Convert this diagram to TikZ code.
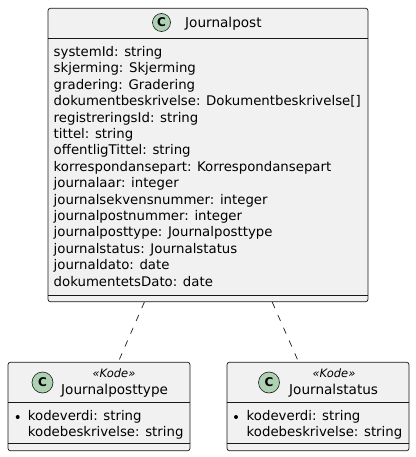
\documentclass[tikz,border=0pt]{standalone}
\usepackage{fontspec}
\setmainfont{DejaVu Sans}
\usetikzlibrary{calc}
\definecolor{boxfill}{HTML}{F1F1F1}
\definecolor{boxline}{HTML}{181818}
\definecolor{circfill}{HTML}{ADD1B2}
\tikzset{
  umlbox/.style={draw=boxline, fill=boxfill, line width=0.7pt, rounded corners=2.5pt, inner sep=0pt},
  divider/.style={draw=boxline, line width=0.7pt},
  conn/.style={draw=boxline, line width=0.7pt, dash pattern=on 6.5pt off 7.5pt},
  circ/.style={circle, draw=boxline, fill=circfill, line width=0.6pt, inner sep=0pt, font=\fontsize{12}{12}\selectfont\bfseries},
  title/.style={anchor=base west, inner sep=0pt, font=\fontsize{13.6}{15}\selectfont},
  stereo/.style={anchor=base, inner sep=0pt, font=\fontsize{11.5}{12}\selectfont\itshape},
  attr/.style={anchor=base west, inner sep=0pt, font=\fontsize{13.3}{15}\selectfont},
  dot/.style={circle, fill=black, inner sep=0pt, minimum size=4pt}
}
\begin{document}
\begin{tikzpicture}[x=1pt,y=-1pt]
\useasboundingbox (0,0) rectangle (415,457);
% main class
\node[umlbox, minimum width=320pt, minimum height=293.5pt] (jp) at (208,155) {};
\draw[divider] (jp.west |- 0,38.5) -- (jp.east |- 0,38.5);
\draw[divider] (jp.west |- 0,295) -- (jp.east |- 0,295);
\node[circ, minimum size=18pt] (jpc) at (161.5,22.5) {C};
\node[title] (jpt) at (185,27.5) {Journalpost};
\foreach \t [count=\i] in {
  {systemId: string},
  {skjerming: Skjerming},
  {gradering: Gradering},
  {dokumentbeskrivelse: Dokumentbeskrivelse[]},
  {registreringsId: string},
  {tittel: string},
  {offentligTittel: string},
  {korrespondansepart: Korrespondansepart},
  {journalaar: integer},
  {journalsekvensnummer: integer},
  {journalpostnummer: integer},
  {journalposttype: Journalposttype},
  {journalstatus: Journalstatus},
  {journaldato: date},
  {dokumentetsDato: date}}
  \node[attr] (jpa\i) at (53.5,{56.5+16.4*(\i-1)}) {\t};
% Journalposttype
\node[umlbox, minimum width=182pt, minimum height=88.5pt] (jpty) at (99,406.5) {};
\draw[divider] (jpty.west |- 0,402.7) -- (jpty.east |- 0,402.7);
\draw[divider] (jpty.west |- 0,443.3) -- (jpty.east |- 0,443.3);
\node[circ, minimum size=21pt] (jptyc) at (42.5,382.5) {C};
\node[stereo] (jptys) at (114,377) {«Kode»};
\node[title] (jptyt) at (61,394) {Journalposttype};
\node[dot] (jptyd) at (17.7,417) {};
\node[attr] (jptya1) at (27.7,420) {kodeverdi: string};
\node[attr] (jptya2) at (27.7,436) {kodebeskrivelse: string};
% Journalstatus
\node[umlbox, minimum width=182pt, minimum height=88.5pt] (js) at (318,406.5) {};
\draw[divider] (js.west |- 0,402.7) -- (js.east |- 0,402.7);
\draw[divider] (js.west |- 0,443.3) -- (js.east |- 0,443.3);
\node[circ, minimum size=21pt] (jsc) at (269,382.5) {C};
\node[stereo] (jss) at (334,377) {«Kode»};
\node[title] (jst) at (289,394) {Journalstatus};
\node[dot] (jsd) at (236,417) {};
\node[attr] (jsa1) at (246.5,420) {kodeverdi: string};
\node[attr] (jsa2) at (246.5,436) {kodebeskrivelse: string};
% connectors
\draw[conn] (jp) -- (jpty);
\draw[conn] (jp) -- (js);
\end{tikzpicture}
\end{document}
